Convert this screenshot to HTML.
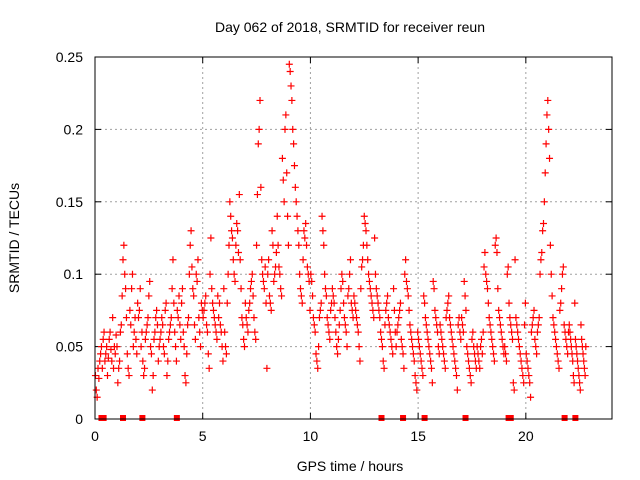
<!DOCTYPE html>
<html><head><meta charset="utf-8"><style>
body{margin:0;background:#fff}
svg{display:block;font-family:"Liberation Sans",sans-serif}
</style></head><body>
<svg id="chart" width="640" height="480">
<rect width="640" height="480" fill="#fff"/>
<g id="grid"></g>
<g id="axes"></g>
<g id="points"></g>
<rect x="95" y="57" width="517" height="362" fill="none" stroke="#000" stroke-width="1"/>
<text x="350" y="32" font-size="14" text-anchor="middle">Day 062 of 2018, SRMTID for receiver reun</text>
<text x="350" y="471" font-size="14" text-anchor="middle">GPS time / hours</text>
<text x="19" y="238" font-size="14" text-anchor="middle" transform="rotate(-90 19 238)">SRMTID / TECUs</text>
</svg>
<script>
const xTicks=[0,5,10,15,20];
const yTicks=[0,0.05,0.1,0.15,0.2,0.25];
const yTickLabels=["0","0.05","0.1","0.15","0.2","0.25"];
const groupStart=[0,1,2,3,4,5,6,7,8,9,10,11,12,13,14,15,16,17,18,19,20,21,22];
const groupSpan=[1,1,1,1,1,1,1,1,1,1,1,1,1,1,1,1,1,1,1,1,1,1,0.8];
const h0=[.03,.02,.015,.035,.028,.04,.045,.05,.035,.055,.06,.04,.045,.05,.03,.042,.055,.06,.048,.04,.07,.035,.05,.045,.058];
const h1=[.05,.025,.035,.04,.06,.065,.085,.11,.12,.1,.09,.07,.045,.035,.03,.075,.065,.09,.1,.05,.06,.07,.055,.045,.08];
const h2=[.07,.075,.09,.05,.06,.04,.03,.035,.055,.06,.065,.07,.085,.095,.05,.045,.02,.03,.055,.06,.07,.075,.065,.04,.05];
const h3=[.055,.06,.07,.065,.05,.045,.075,.08,.03,.04,.055,.06,.065,.07,.09,.11,.08,.06,.05,.04,.075,.07,.085,.065,.055];
const h4=[.08,.09,.06,.05,.03,.025,.045,.065,.07,.1,.12,.13,.105,.09,.085,.065,.055,.1,.095,.11,.07,.06,.05,.08,.075];
const h5=[.07,.075,.08,.085,.065,.06,.045,.035,.1,.125,.09,.08,.075,.07,.065,.06,.055,.085,.07,.08,.065,.06,.05,.04,.09];
const h6=[.06,.05,.045,.08,.1,.12,.15,.14,.13,.125,.11,.1,.095,.12,.135,.13,.115,.155,.11,.09,.07,.065,.055,.05,.08];
const h7=[.07,.065,.06,.075,.08,.09,.095,.1,.085,.07,.06,.055,.12,.155,.19,.2,.22,.16,.11,.1,.095,.09,.105,.08,.035];
const h8=[.1,.11,.085,.08,.075,.13,.12,.095,.1,.105,.115,.14,.12,.105,.1,.09,.085,.18,.165,.15,.2,.21,.17,.14,.12];
const h9=[.245,.24,.23,.22,.2,.19,.175,.16,.15,.14,.13,.12,.1,.09,.085,.08,.11,.13,.125,.135,.12,.105,.1,.095,.075];
const h10=[.1,.095,.085,.07,.065,.06,.045,.04,.035,.05,.07,.075,.08,.14,.13,.12,.1,.09,.085,.07,.065,.06,.055,.075,.08];
const h11=[.09,.085,.08,.07,.06,.05,.045,.055,.065,.075,.09,.1,.095,.08,.07,.065,.06,.05,.085,.09,.1,.11,.08,.075,.07];
const h12=[.085,.08,.075,.07,.065,.06,.05,.04,.09,.105,.11,.12,.14,.135,.13,.12,.11,.1,.095,.09,.085,.08,.075,.07,.125];
const h13=[.1,.09,.085,.08,.075,.07,.06,.055,.05,.04,.035,.065,.075,.08,.085,.07,.065,.06,.055,.05,.045,.09,.075,.06,.05];
const h14=[.06,.065,.07,.075,.08,.055,.05,.045,.035,.1,.11,.095,.09,.085,.075,.065,.06,.055,.05,.045,.04,.03,.025,.02,.06];
const h15=[.055,.05,.045,.04,.035,.03,.085,.08,.07,.065,.06,.055,.05,.045,.04,.035,.025,.095,.09,.075,.07,.065,.06,.05,.045];
const h16=[.065,.06,.055,.05,.045,.04,.035,.07,.075,.08,.085,.07,.065,.06,.055,.05,.045,.04,.035,.03,.02,.065,.07,.06,.055];
const h17=[.07,.065,.06,.095,.085,.075,.05,.045,.04,.035,.03,.025,.055,.06,.05,.045,.04,.035,.05,.045,.04,.035,.05,.055,.045];
const h18=[.06,.105,.115,.1,.095,.09,.08,.07,.065,.06,.055,.05,.045,.04,.12,.125,.115,.09,.075,.07,.065,.06,.055,.05,.045];
const h19=[.05,.045,.04,.1,.105,.08,.07,.065,.06,.055,.025,.02,.11,.07,.065,.06,.055,.05,.045,.04,.035,.03,.025,.065,.08];
const h20=[.045,.04,.035,.03,.025,.015,.06,.065,.07,.075,.055,.05,.045,.06,.065,.07,.1,.11,.115,.13,.135,.15,.17,.19,.21];
const h21=[.22,.2,.18,.12,.1,.085,.07,.065,.06,.055,.05,.045,.04,.035,.075,.08,.09,.1,.105,.065,.06,.055,.05,.045,.06];
const h22=[.065,.06,.055,.05,.045,.04,.03,.025,.08,.055,.05,.045,.04,.035,.03,.025,.02,.065,.055,.05,.045,.04,.035,.03,.05];
const groups=[h0,h1,h2,h3,h4,h5,h6,h7,h8,h9,h10,h11,h12,h13,h14,h15,h16,h17,h18,h19,h20,h21,h22];
const zeroTimes=[0.3,0.4,1.3,2.2,3.8,13.3,14.3,15.3,17.2,19.2,19.3,21.8,22.3];

const NS="http://www.w3.org/2000/svg";
const X0=95,X1=612,Y0=419,Y1=57,XMAX=24,YMAX=0.25;
function sx(v){return X0+v/XMAX*(X1-X0);}
function sy(v){return Y0-v/YMAX*(Y0-Y1);}
function mk(tag,attrs,parent){const e=document.createElementNS(NS,tag);for(const k in attrs)e.setAttribute(k,attrs[k]);parent.appendChild(e);return e;}
const grid=document.getElementById('grid'),axes=document.getElementById('axes'),pts=document.getElementById('points');
xTicks.forEach((t,i)=>{
  const x=sx(t);
  if(t>0){const g=mk('line',{x1:x,x2:x,y1:Y0,y2:Y1,stroke:'#a0a0a0','stroke-dasharray':'2,3'},grid);
  
  }
  mk('line',{x1:x,x2:x,y1:Y0,y2:Y0-6,stroke:'#000'},axes);
  mk('line',{x1:x,x2:x,y1:Y1,y2:Y1+6,stroke:'#000'},axes);
  const tx=mk('text',{x:x,y:Y0+22,'font-size':14,'text-anchor':'middle'},axes);
  tx.textContent=String(t);
  
  
});
yTicks.forEach((t,i)=>{
  const y=sy(t);
  if(t>0&&t<YMAX){const g=mk('line',{x1:X0,x2:X1,y1:y,y2:y,stroke:'#a0a0a0','stroke-dasharray':'2,3'},grid);
  
  }
  mk('line',{x1:X0,x2:X0+6,y1:y,y2:y,stroke:'#000'},axes);
  mk('line',{x1:X1,x2:X1-6,y1:y,y2:y,stroke:'#000'},axes);
  const tx=mk('text',{x:X0-12,y:y+5,'font-size':14,'text-anchor':'end'},axes);
  tx.textContent=yTickLabels[i];
  
  
});
groups.forEach((vals,gi)=>{
  vals.forEach((v,j)=>{
    const t=groupStart[gi]+(j+0.5)/vals.length*groupSpan[gi];
    const x=sx(t),y=sy(v);
    const p=mk('path',{d:`M${x-3.5} ${y}H${x+3.5}M${x} ${y-3.5}V${y+3.5}`,stroke:'#f00','stroke-width':1.2,fill:'none'},pts);
    
    
  });
});
zeroTimes.forEach(t=>{
  const r=mk('rect',{x:sx(t)-3,y:Y0-4,width:6,height:6,fill:'#f00'},pts);
  
  
});
</script>
</body></html>
